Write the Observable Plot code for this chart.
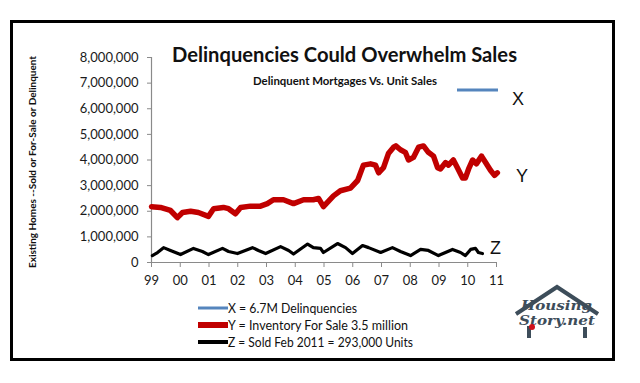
<!DOCTYPE html>
<html>
<head>
<meta charset="utf-8">
<script src="https://cdn.jsdelivr.net/npm/d3@7"></script>
<script src="https://cdn.jsdelivr.net/npm/@observablehq/plot@0.6"></script>
<style>
  html, body { margin: 0; padding: 0; background: #fff; }
  #wrap { position: relative; width: 640px; height: 383px; overflow: hidden; }
  #wrap > svg { position: absolute; left: 0; top: 0; }
  #frame { position: absolute; left: 10px; top: 20px; width: 599px; height: 335px; border: 3px solid #000; box-sizing: content-box; }
  #overlay { position: absolute; left: 0; top: 0; pointer-events: none; }
</style>
</head>
<body>
<div id="wrap">
  <div id="frame"></div>
</div>
<script>
// ---- Data ----
const yTicks = [0, 1000000, 2000000, 3000000, 4000000, 5000000, 6000000, 7000000, 8000000];
const xTickYears = [1999, 2000, 2001, 2002, 2003, 2004, 2005, 2006, 2007, 2008, 2009, 2010, 2011];
const xTickLabels = ["99", "00", "01", "02", "03", "04", "05", "06", "07", "08", "09", "10", "11"];

// Y = Inventory for sale (red)
const inventoryYears = [1999.00, 1999.31, 1999.66, 1999.90, 2000.08, 2000.36, 2000.63, 2000.98, 2001.16, 2001.50, 2001.68, 2001.92, 2002.10, 2002.44, 2002.79, 2003.03, 2003.24, 2003.59, 2003.94, 2004.29, 2004.63, 2004.81, 2004.98, 2005.33, 2005.57, 2005.92, 2006.17, 2006.37, 2006.62, 2006.79, 2006.90, 2007.07, 2007.24, 2007.42, 2007.50, 2007.66, 2007.83, 2007.94, 2008.11, 2008.29, 2008.46, 2008.63, 2008.81, 2008.95, 2009.05, 2009.23, 2009.33, 2009.50, 2009.64, 2009.82, 2009.92, 2010.03, 2010.17, 2010.30, 2010.48, 2010.62, 2010.79, 2010.93, 2011.03];
const inventoryValues = [2180000, 2150000, 2030000, 1750000, 1950000, 2000000, 1950000, 1800000, 2100000, 2150000, 2100000, 1900000, 2150000, 2200000, 2200000, 2300000, 2450000, 2450000, 2300000, 2450000, 2450000, 2500000, 2180000, 2600000, 2800000, 2900000, 3200000, 3800000, 3850000, 3800000, 3500000, 3700000, 4250000, 4500000, 4550000, 4400000, 4300000, 4000000, 4100000, 4500000, 4550000, 4300000, 4150000, 3700000, 3650000, 3900000, 3800000, 4000000, 3700000, 3300000, 3300000, 3650000, 4000000, 3850000, 4150000, 3900000, 3600000, 3400000, 3500000];

// Z = Sold (black)
const soldYears = [1999.03, 1999.21, 1999.42, 1999.66, 2000.01, 2000.46, 2000.77, 2000.98, 2001.47, 2001.68, 2001.99, 2002.51, 2002.72, 2002.97, 2003.49, 2003.77, 2003.94, 2004.43, 2004.63, 2004.88, 2004.98, 2005.47, 2005.75, 2005.99, 2006.34, 2006.55, 2006.97, 2007.38, 2007.66, 2008.01, 2008.36, 2008.63, 2008.98, 2009.47, 2009.75, 2009.92, 2010.10, 2010.27, 2010.37, 2010.51];
const soldValues = [270000, 390000, 580000, 470000, 310000, 550000, 430000, 310000, 550000, 430000, 350000, 580000, 470000, 350000, 620000, 470000, 330000, 720000, 580000, 550000, 390000, 740000, 580000, 350000, 660000, 580000, 390000, 580000, 430000, 270000, 510000, 470000, 270000, 510000, 390000, 270000, 510000, 550000, 390000, 350000];

const legendLabels = ["X = 6.7M Delinquencies", "Y = Inventory For Sale 3.5 million", "Z = Sold Feb 2011 = 293,000 Units"];
const seriesColors = ["#5585bd", "#c00000", "#000000"];

const inventory = inventoryYears.map((t, i) => ({t, v: inventoryValues[i]}));
const sold = soldYears.map((t, i) => ({t, v: soldValues[i]}));
const fmtLabel = d3.scaleOrdinal(xTickYears, xTickLabels);

const chart = Plot.plot({
  width: 640,
  height: 383,
  marginLeft: 151,
  marginRight: 144,
  marginTop: 57,
  marginBottom: 121,
  style: {fontFamily: "Lato, 'Open Sans', sans-serif", fontSize: "13px", color: "#1a1a1a", background: "transparent"},
  x: {domain: [1999, 2011]},
  y: {domain: [0, 8000000]},
  marks: [
    Plot.axisX({ticks: xTickYears, tickFormat: d => fmtLabel(d), tickSize: 5, tickPadding: 8, label: null}),
    Plot.axisY({ticks: yTicks, tickFormat: d3.format(","), tickSize: 4, tickPadding: 9, label: null}),
    Plot.ruleX([1999], {stroke: "#8a8a8a", strokeWidth: 1.2}),
    Plot.ruleY([0], {stroke: "#8a8a8a", strokeWidth: 1.2}),
    Plot.line(inventory, {x: "t", y: "v", stroke: seriesColors[1], strokeWidth: 5.5, strokeLinejoin: "round", strokeLinecap: "round"}),
    Plot.line(sold, {x: "t", y: "v", stroke: seriesColors[2], strokeWidth: 3.2, strokeLinejoin: "round", strokeLinecap: "round"})
  ]
});
chart.querySelectorAll('g[aria-label$="tick"]').forEach(g => g.setAttribute("stroke", "#8a8a8a"));
document.getElementById("wrap").appendChild(chart);

// ---- Overlay texts / legend / logo ----
const NS = "http://www.w3.org/2000/svg";
const ov = document.createElementNS(NS, "svg");
ov.setAttribute("id", "overlay");
ov.setAttribute("width", 640);
ov.setAttribute("height", 383);
document.getElementById("wrap").appendChild(ov);

function txt(s, x, y, opts = {}) {
  const t = document.createElementNS(NS, "text");
  t.textContent = s;
  t.setAttribute("x", x);
  t.setAttribute("y", y);
  t.setAttribute("font-family", opts.family || "Lato, 'Open Sans', sans-serif");
  t.setAttribute("font-size", opts.size || 12);
  t.setAttribute("font-weight", opts.weight || "normal");
  if (opts.style) t.setAttribute("font-style", opts.style);
  t.setAttribute("fill", opts.fill || "#111");
  if (opts.anchor) t.setAttribute("text-anchor", opts.anchor);
  if (opts.len) { t.setAttribute("textLength", opts.len); t.setAttribute("lengthAdjust", "spacingAndGlyphs"); }
  if (opts.transform) t.setAttribute("transform", opts.transform);
  ov.appendChild(t);
  return t;
}
function seg(x1, y1, x2, y2, color, w) {
  const l = document.createElementNS(NS, "line");
  l.setAttribute("x1", x1); l.setAttribute("y1", y1);
  l.setAttribute("x2", x2); l.setAttribute("y2", y2);
  l.setAttribute("stroke", color); l.setAttribute("stroke-width", w);
  ov.appendChild(l);
}

// title & subtitle
txt("Delinquencies Could Overwhelm Sales", 172, 62, {size: 21, weight: "bold", len: 345});
txt("Delinquent Mortgages Vs. Unit Sales", 253, 85, {size: 11, weight: "bold", len: 184});

// y axis title
txt("Existing Homes --Sold or For-Sale or Delinquent", 0, 0, {size: 9.5, weight: "bold", anchor: "middle", len: 212, transform: "translate(36,162) rotate(-90)"});

// X / Y / Z labels
seg(457, 90, 498, 90, seriesColors[0], 3);
txt("X", 512, 105, {size: 18, family: "'Liberation Sans', Arial, sans-serif"});
txt("Y", 516, 182, {size: 18, family: "'Liberation Sans', Arial, sans-serif"});
txt("Z", 490, 254, {size: 18, family: "'Liberation Sans', Arial, sans-serif"});

// bottom legend
const legY = [308, 325, 342];
const legW = [3, 6, 4];
const legLen = [129, 180, 185];
legendLabels.forEach((s, i) => {
  seg(198, legY[i], 228, legY[i], seriesColors[i], legW[i]);
  txt(s, 228, legY[i] + 4.5, {size: 12.5, len: legLen[i]});
});

// logo
const house = document.createElementNS(NS, "path");
house.setAttribute("d", "M529,338 L529,326 M516,314 L557,287 L598,314 M585,338 L585,327");
house.setAttribute("fill", "none");
house.setAttribute("stroke", "#3d4d5a");
house.setAttribute("stroke-width", 4);
ov.appendChild(house);
txt("Housing", 521, 310, {size: 13, weight: "bold", style: "italic", family: "'DejaVu Serif', 'Liberation Serif', serif", fill: "#3d4d5a", len: 71});
txt("Story.net", 519, 325, {size: 13, weight: "bold", style: "italic", family: "'DejaVu Serif', 'Liberation Serif', serif", fill: "#3d4d5a", len: 76});
const dot = document.createElementNS(NS, "circle");
dot.setAttribute("cx", 532); dot.setAttribute("cy", 327); dot.setAttribute("r", 3);
dot.setAttribute("fill", "#d0101a");
ov.appendChild(dot);
</script>
</body>
</html>
